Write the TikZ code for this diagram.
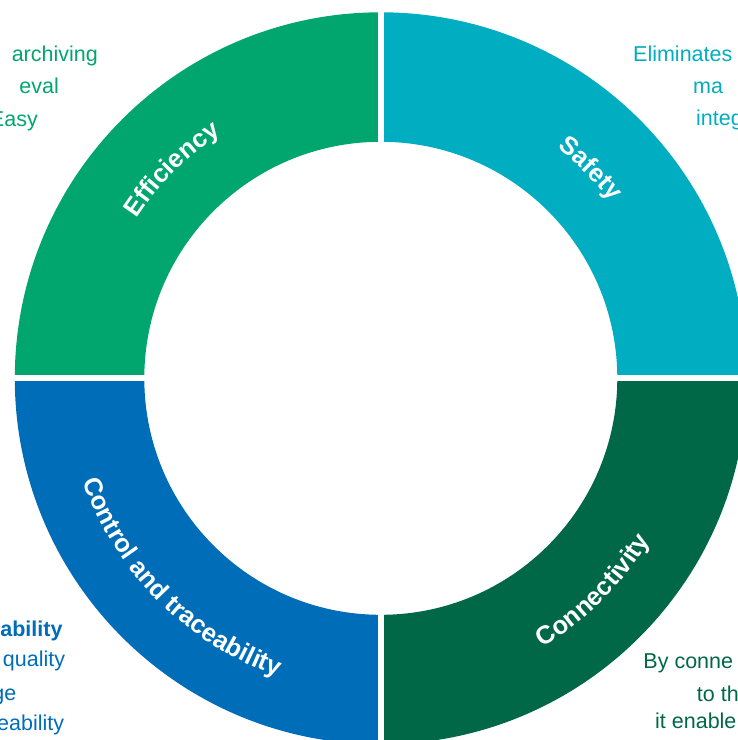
\documentclass[tikz,border=0pt]{standalone}
\usepackage{fontspec}
\setmainfont{Liberation Sans}
\usetikzlibrary{decorations.text}
\definecolor{cgreen}{HTML}{00A66E}
\definecolor{cteal}{HTML}{00ADC1}
\definecolor{cblue}{HTML}{006DB8}
\definecolor{cdark}{HTML}{006847}
\tikzset{
  outtext/.style={inner sep=0pt, font=\fontsize{21.5}{25}\selectfont},
  seglabel/.style={decorate, decoration={text along path, text align=center, text color=white}},
}
\newcommand{\segfont}{\bfseries\fontsize{25.5}{30}\selectfont}
\begin{document}
\begin{tikzpicture}[x=1pt,y=1pt]
\useasboundingbox (-380.8,-361.7) rectangle (357.2,378.3);
\def\Ro{366}
\def\Ri{236.5}
% sectors
\fill[cteal] (0:\Ro) arc[start angle=0,end angle=90,radius=\Ro] -- (90:\Ri) arc[start angle=90,end angle=0,radius=\Ri] -- cycle;
\fill[cgreen] (90:\Ro) arc[start angle=90,end angle=180,radius=\Ro] -- (180:\Ri) arc[start angle=180,end angle=90,radius=\Ri] -- cycle;
\fill[cblue] (180:\Ro) arc[start angle=180,end angle=270,radius=\Ro] -- (270:\Ri) arc[start angle=270,end angle=180,radius=\Ri] -- cycle;
\fill[cdark] (270:\Ro) arc[start angle=270,end angle=360,radius=\Ro] -- (0:\Ri) arc[start angle=0,end angle=-90,radius=\Ri] -- cycle;
% gaps
\draw[white,line width=6.3pt] (-400,0) -- (400,0);
\draw[white,line width=6.3pt] (0,-400) -- (0,400);
% segment labels
\path[seglabel, decoration={text={|\segfont|Efficiency}}] (180:292) arc[start angle=180,end angle=90,radius=292];
\path[seglabel, decoration={text={|\segfont|Safety}}] (90:290) arc[start angle=90,end angle=0,radius=290];
\path[seglabel, decoration={text={|\segfont|Connectivity}}] (-90:314) arc[start angle=-90,end angle=0,radius=314];
\path[seglabel, decoration={text={|\segfont|Control and traceability}}] (180:315) arc[start angle=180,end angle=270,radius=315];
% outside texts
\node[outtext, text=cgreen, anchor=base east] (tl1) at (-282.8,316.6) {archiving};
\node[outtext, text=cgreen, anchor=base east] (tl2) at (-321.8,285) {eval};
\node[outtext, text=cgreen, anchor=base east] (tl3) at (-342.8,252) {Easy};
\node[outtext, text=cteal, anchor=base west] (tr1) at (252.2,316.6) {Eliminates};
\node[outtext, text=cteal, anchor=base west] (tr2) at (312.2,285) {ma};
\node[outtext, text=cteal, anchor=base west] (tr3) at (315.2,253.3) {integ};
\node[outtext, text=cblue, anchor=base east, font=\bfseries\fontsize{21.5}{25}\selectfont] (bl1) at (-318.1,-258.4) {ability};
\node[outtext, text=cblue, anchor=base east] (bl2) at (-315.5,-288.4) {quality};
\node[outtext, text=cblue, anchor=base east] (bl3) at (-364.3,-321.7) {ge};
\node[outtext, text=cblue, anchor=base east] (bl4) at (-316.5,-351.7) {eability};
\node[outtext, text=cdark, anchor=base west] (br1) at (262.5,-290) {By conne};
\node[outtext, text=cdark, anchor=base west] (br2) at (316,-323.4) {to th};
\node[outtext, text=cdark, anchor=base west] (br3) at (274.2,-350) {it enable};
\end{tikzpicture}
\end{document}
